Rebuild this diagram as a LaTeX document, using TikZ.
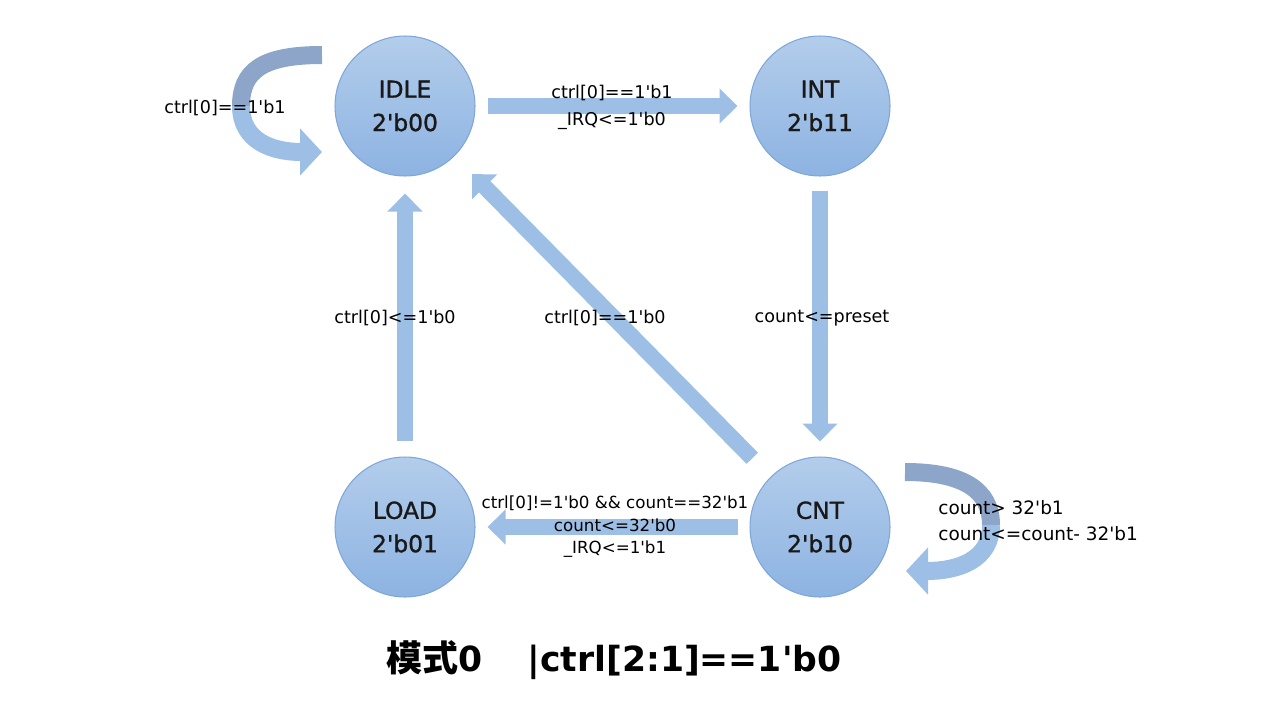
\documentclass[tikz,border=0pt]{standalone}
\usepackage{fontspec}
\setmainfont{DejaVu Sans}[Ligatures=TeXOff]
\newfontfamily\cjk{Noto Sans CJK SC}
\usetikzlibrary{arrows.meta,calc}
\definecolor{stateTop}{HTML}{B3CDEB}
\definecolor{stateBot}{HTML}{8DB3E2}
\definecolor{stateEdge}{HTML}{7EA6D9}
\definecolor{flowBlue}{HTML}{9DBFE6}
\definecolor{loopDark}{HTML}{8CA5C8}

\begin{document}
\begin{tikzpicture}[x=0.02cm, y=-0.02cm,
	state/.style={circle, minimum size=2.8cm, inner sep=0pt, top color=stateTop, bottom color=stateBot, draw=stateEdge, line width=0.6pt, align=center, text=black!90, font=\fontsize{13.3pt}{19pt}\selectfont\addfontfeature{FakeBold=1.2}},
	flow/.style={draw=flowBlue, line width=0.32cm, -{Triangle[width=0.68cm, length=0.36cm]}},
	loopback/.style={draw=loopDark, line width=0.36cm},
	loopfront/.style={draw=flowBlue, line width=0.36cm, -{Triangle[width=0.92cm, length=0.44cm]}},
	lab/.style={align=center, inner sep=0pt, font=\fontsize{10pt}{13pt}\selectfont}]
	\useasboundingbox (0,0) rectangle (1280,720);
	% states
	\node[state] (idle) at (405,106) {IDLE\\2'b00};
	\node[state] (int) at (820,106) {INT\\2'b11};
	\node[state] (load) at (405,527) {LOAD\\2'b01};
	\node[state] (cnt) at (820,527) {CNT\\2'b10};
	% transitions
	\draw[flow, shorten <=0.24cm, shorten >=0.24cm] (idle) -- (int);
	\draw[flow, shorten <=0.28cm, shorten >=0.3cm] (int) -- (cnt);
	\draw[flow, shorten <=0.3cm, shorten >=0.34cm] (load) -- (idle);
	\draw[flow, shorten <=0.52cm, shorten >=0.5cm] (cnt) -- (idle);
	\draw[flow, shorten <=0.24cm, shorten >=0.24cm] (cnt) -- (load);
	% self loops
	\coordinate (idle-out) at ($(idle)+(-83,-51)$);
	\coordinate (idle-far) at ($(idle)+(-164,0)$);
	\coordinate (idle-in) at ($(idle)+(-83,46)$);
	\draw[loopback] (idle-out) .. controls +(-60,0) and +(0,-35) .. (idle-far);
	\draw[loopfront] (idle-far) .. controls +(0,35) and +(-50,0) .. (idle-in);
	\coordinate (cnt-out) at ($(cnt)+(85,-55)$);
	\coordinate (cnt-far) at ($(cnt)+(171,-2)$);
	\coordinate (cnt-in) at ($(cnt)+(86,44)$);
	\draw[loopback] (cnt-out) .. controls +(58,0) and +(0,-35) .. (cnt-far);
	\draw[loopfront] (cnt-far) .. controls +(0,35) and +(52,0) .. (cnt-in);
	% conditions
	\node[lab] (l-hold) at (225,108) {ctrl[0]==1'b1};
	\node[lab, font=\fontsize{10pt}{15.3pt}\selectfont] (l-start) at (612,107) {ctrl[0]==1'b1\\\_IRQ<=1'b0};
	\node[lab] (l-preset) at (822,318) {count<=preset};
	\node[lab] (l-clear) at (395,318) {ctrl[0]<=1'b0};
	\node[lab] (l-stop) at (605,318) {ctrl[0]==1'b0};
	\node[lab, font=\fontsize{9.5pt}{12.8pt}\selectfont] (l-done) at (615,527) {ctrl[0]!=1'b0 \&\& count==32'b1\\count<=32'b0\\\_IRQ<=1'b1};
	\node[lab, align=left, anchor=west, font=\fontsize{10.5pt}{14.7pt}\selectfont] (l-count) at (938,521) {count> 32'b1\\count<=count- 32'b1};
	\node (title) at (614,660) {\bfseries\fontsize{19.7pt}{24pt}\selectfont{\cjk\fontsize{20.5pt}{24pt}\selectfont 模式}0\hspace{1.3em}|ctrl[2:1]==1'b0};
\end{tikzpicture}
\end{document}
